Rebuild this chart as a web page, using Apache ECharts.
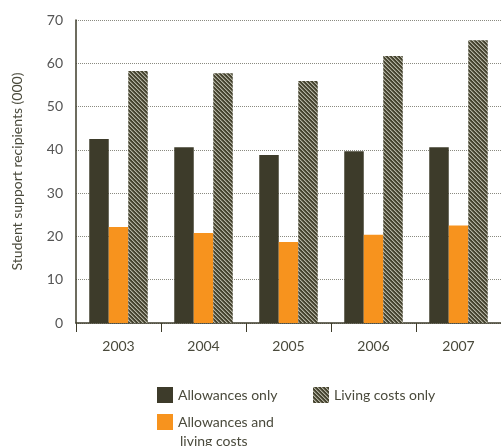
<!DOCTYPE html>
<html>
<head>
<meta charset="utf-8">
<script src="https://cdn.jsdelivr.net/npm/echarts@6/dist/echarts.min.js"></script>
<style>
html, body { margin: 0; padding: 0; background: #fff; }
#main { width: 501px; height: 446px; }
</style>
</head>
<body>
<div id="main"></div>
<script>
var years = ['2003', '2004', '2005', '2006', '2007'];
var allowancesOnly = [42.5, 40.6, 38.8, 39.7, 40.6];
var allowancesAndLiving = [22.2, 20.8, 18.7, 20.4, 22.5];
var livingOnly = [58.2, 57.7, 55.9, 61.7, 65.3];

// diagonal hatch tile for "Living costs only"
var tile = document.createElement('canvas');
tile.width = 4;
tile.height = 4;
var ctx = tile.getContext('2d');
ctx.fillStyle = '#45432f';
ctx.fillRect(0, 0, 4, 4);
for (var i = 0; i < 4; i++) {
    ctx.fillStyle = '#b4b3a3';
    ctx.fillRect(i, i, 1, 1);
    ctx.fillStyle = '#757361';
    ctx.fillRect((i + 1) % 4, i, 1, 1);
}
var hatch = { image: tile, repeat: 'repeat' };

var textColor = '#4a4a3c';
var font = 'Lato';

var myChart = echarts.init(document.getElementById('main'));
var option = {
    animation: false,
    backgroundColor: '#fff',
    textStyle: { fontFamily: font },
    grid: { left: 76, top: 20, right: -8, bottom: 123 },
    legend: [{
        left: 157, top: 387, padding: 0, itemWidth: 16, itemHeight: 16, itemGap: 8,
        icon: 'rect',
        textStyle: { color: textColor, fontSize: 14, fontFamily: font },
        data: ['Allowances only']
    }, {
        left: 313, top: 387, padding: 0, itemWidth: 16, itemHeight: 16,
        icon: 'rect',
        textStyle: { color: textColor, fontSize: 14, fontFamily: font },
        data: ['Living costs only']
    }, {
        left: 157, top: 414, padding: 0, itemWidth: 16, itemHeight: 16,
        icon: 'rect',
        formatter: function () { return 'Allowances and'; },
        textStyle: { color: textColor, fontSize: 14, fontFamily: font },
        data: ['Allowances and living costs']
    }],
    // second line of the wrapped legend label (cut by the page edge, as in the source)
    graphic: [{
        type: 'text',
        left: 180, top: 434,
        style: { text: 'living costs', fill: textColor, fontSize: 14, fontFamily: font }
    }],
    xAxis: {
        type: 'category',
        data: years,
        axisLine: { lineStyle: { color: '#3d3b2a', width: 1.5 } },
        axisTick: { show: true, length: 9, lineStyle: { color: '#3d3b2a' } },
        axisLabel: { color: textColor, fontSize: 14, margin: 16 }
    },
    yAxis: {
        type: 'value',
        min: 0, max: 70, interval: 10,
        name: 'Student support recipients (000)',
        nameLocation: 'middle',
        nameGap: 52,
        nameTextStyle: { color: textColor, fontSize: 14 },
        axisLine: { show: true, lineStyle: { color: '#3d3b2a', width: 1.5 } },
        axisTick: { show: false },
        axisLabel: { color: '#555', fontSize: 14, margin: 13 },
        splitLine: { lineStyle: { color: '#8a8a80', type: [1, 1], width: 1 } }
    },
    series: [{
        name: 'Allowances only',
        type: 'bar',
        barWidth: 19.5,
        barGap: '0%',
        itemStyle: { color: '#3d3b2a' },
        data: allowancesOnly
    }, {
        name: 'Allowances and living costs',
        type: 'bar',
        barWidth: 19.5,
        barGap: '0%',
        itemStyle: { color: '#f7931e' },
        data: allowancesAndLiving
    }, {
        name: 'Living costs only',
        type: 'bar',
        barWidth: 19.5,
        barGap: '0%',
        itemStyle: { color: hatch },
        data: livingOnly
    }]
};
myChart.setOption(option);
</script>
</body>
</html>
